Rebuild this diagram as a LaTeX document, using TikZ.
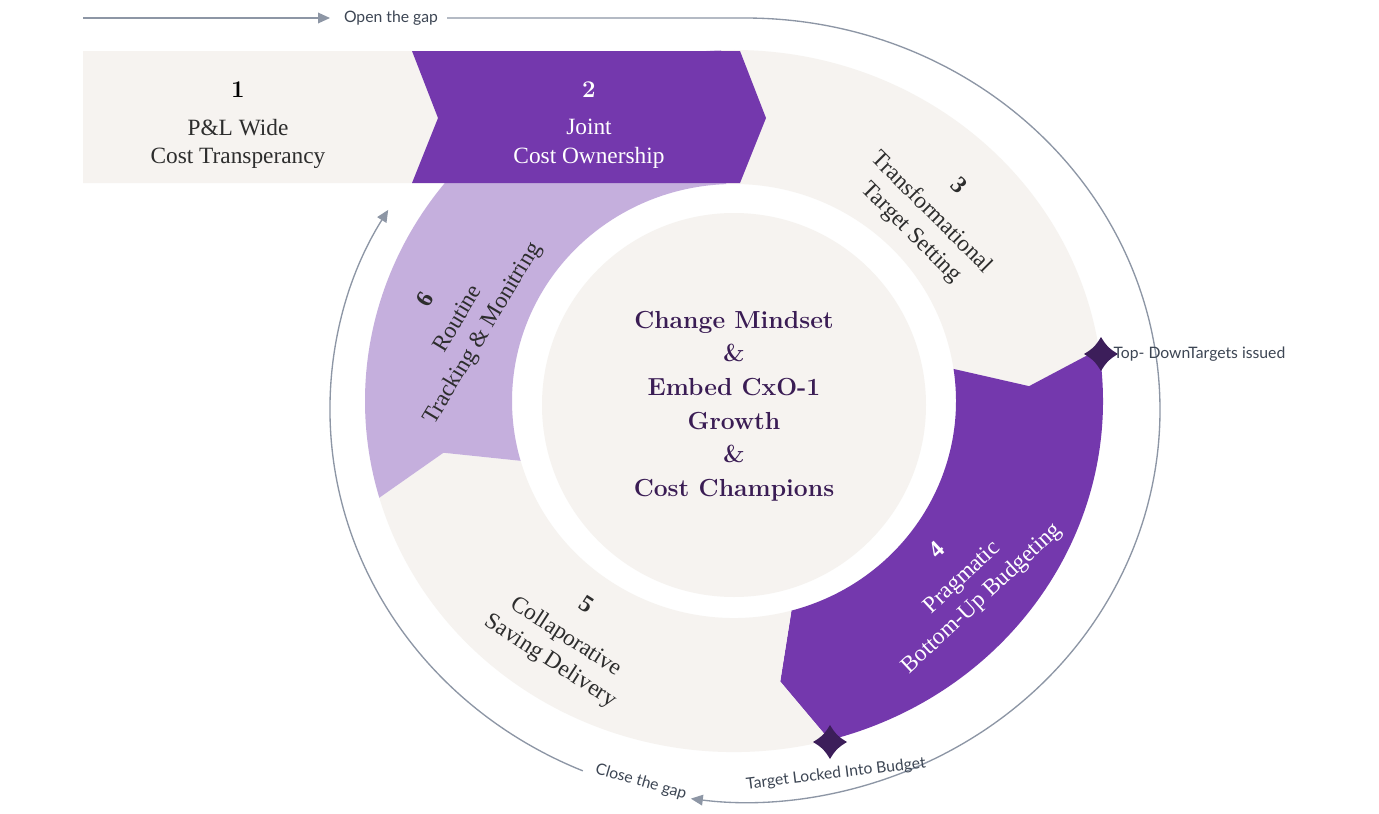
\documentclass[tikz,border=0pt]{standalone}
\usepackage{fontspec}
\newfontfamily\latofont{Lato}
\newfontfamily\stepfont{Liberation Serif}
\usetikzlibrary{arrows.meta}

\definecolor{cbeige}{RGB}{246,243,240}
\definecolor{cpurple}{RGB}{116,56,173}
\definecolor{clavender}{RGB}{197,175,221}
\definecolor{cdeep}{RGB}{58,28,84}
\definecolor{cstar}{RGB}{60,30,90}
\definecolor{cloop}{RGB}{141,150,165}
\definecolor{clooptext}{RGB}{61,70,84}
\definecolor{cdark}{RGB}{45,45,45}

\tikzset{every picture/.style={line width=0.75pt}}
\tikzset{
  loopline/.style={draw=cloop, line width=1pt},
  looptip/.style={-{Triangle[length=9pt,width=8pt]}},
  looptext/.style={font=\latofont\fontsize{11.8}{13}\selectfont, text=clooptext, inner sep=0.75pt},
  segtext/.style={font=\stepfont\fontsize{17.5}{21.5}\selectfont, align=center, inner sep=0.75pt},
  boxnum/.style={font=\fontsize{18}{21}\selectfont\bfseries, inner sep=0.75pt},
}

\begin{document}
\begin{tikzpicture}[x=0.75pt,y=0.75pt,yscale=-1,xscale=1]
\useasboundingbox (0,0) rectangle (1379,814);
\fill [white] (0,0) rectangle (1379,814);

%Shape: Ring segments
\begin{scope}[shift={(734,401)}]
% segment 3
\fill [cbeige] ({369*cos(-92)},{351*sin(-92)}) arc[start angle=-92, end angle=-8.5, x radius=369, y radius=351]
  -- ({295.5*cos(-3)},{284*sin(-3)}) -- ({222*cos(-8.5)},{217*sin(-8.5)})
  arc[start angle=-8.5, end angle=-92, x radius=222, y radius=217] -- cycle ;
% segment 4
\fill [cpurple] ({369*cos(-8.5)},{351*sin(-8.5)}) arc[start angle=-8.5, end angle=75, x radius=369, y radius=351]
  -- ({295.5*cos(81)},{284*sin(81)}) -- ({222*cos(75)},{217*sin(75)})
  arc[start angle=75, end angle=-8.5, x radius=222, y radius=217]
  -- ({295.5*cos(-3)},{284*sin(-3)}) -- cycle ;
% segment 5
\fill [cbeige] ({369*cos(75)},{351*sin(75)}) arc[start angle=75, end angle=164, x radius=369, y radius=351]
  -- ({295.5*cos(169.5)},{284*sin(169.5)}) -- ({222*cos(164)},{217*sin(164)})
  arc[start angle=164, end angle=75, x radius=222, y radius=217]
  -- ({295.5*cos(81)},{284*sin(81)}) -- cycle ;
% segment 6
\fill [clavender] ({369*cos(164)},{351*sin(164)}) arc[start angle=164, end angle=268, x radius=369, y radius=351]
  -- ({222*cos(268)},{217*sin(268)})
  arc[start angle=268, end angle=164, x radius=222, y radius=217]
  -- ({295.5*cos(169.5)},{284*sin(169.5)}) -- cycle ;
\end{scope}

%Shape: Circle
\fill [cbeige] (734,405) circle [radius=192] ;

%Shape: Box 1
\fill [cbeige] (83,51) -- (412,51) -- (438,118) -- (412,183) -- (83,183) -- cycle ;
%Shape: Box 2
\fill [cpurple] (412,51) -- (740,51) -- (766,118) -- (740,183) -- (412,183) -- (438,118) -- cycle ;

%Straight Lines
\coordinate (openstart) at (83,18);
\coordinate (opentip) at (330,18);
\draw [loopline, looptip] (openstart) -- (opentip) ;
%Curve Lines
\draw [loopline, looptip] (447,18) -- (745,18) arc[start angle=-90, end angle=97.5, x radius=415, y radius=392] ;
\draw [loopline, looptip] ({745+415*cos(113)},{410+392*sin(113)}) arc[start angle=113, end angle=210.7, x radius=415, y radius=392] ;

%Shape: Star
\fill [cstar] (1101,337) .. controls (1106,345.5) and (1109.5,349) .. (1118,354) .. controls (1109.5,359) and (1106,362.5) .. (1101,371) .. controls (1096,362.5) and (1092.5,359) .. (1084,354) .. controls (1092.5,349) and (1096,345.5) .. (1101,337) -- cycle ;
%Shape: Star
\fill [cstar] (830,725) .. controls (835,733.5) and (838.5,737) .. (847,742) .. controls (838.5,747) and (835,750.5) .. (830,759) .. controls (825,750.5) and (821.5,747) .. (813,742) .. controls (821.5,737) and (825,733.5) .. (830,725) -- cycle ;

% Text Node
\node (opengap) [looptext] at (391,18) {Open the gap};
% Text Node
\node (topdown) [looptext, anchor=west] at (1112,354) {Top- DownTargets issued};
% Text Node
\node (locked) [looptext, rotate=7] at (836,774) {Target Locked Into Budget};
% Text Node
\node (closegap) [looptext, rotate=-16] at (641,782) {Close the gap};

% Text Node
\node (num1) [boxnum, text=black] at (238,90) {1};
\node (box1) [segtext, text=cdark] at (238,144) {P\&L Wide\\Cost Transperancy};
% Text Node
\node (num2) [boxnum, text=white] at (589,90) {2};
\node (box2) [segtext, text=white] at (589,144) {Joint\\Cost Ownership};
% Text Node
\node (seg3) [segtext, text=cdark, rotate=-45] at (934,210) {{\fontsize{18}{21}\selectfont\bfseries 3}\\[6pt]Transformational\\Target Setting};
% Text Node
\node (seg4) [segtext, text=white, rotate=43] at (960,575) {{\fontsize{18}{21}\selectfont\bfseries 4}\\[6pt]Pragmatic\\Bottom-Up Budgeting};
% Text Node
\node (seg5) [segtext, text=cdark, rotate=-33] at (568,634) {{\fontsize{18}{21}\selectfont\bfseries 5}\\[6pt]Collaporative\\Saving Delivery};
% Text Node
\node (seg6) [segtext, text=cdark, rotate=59] at (455,317) {{\fontsize{18}{21}\selectfont\bfseries 6}\\[6pt]Routine\\Tracking \& Monitring};

% Text Node
\node (core) [align=center, text=cdeep, font=\fontsize{18.5}{25.2}\selectfont\bfseries] at (734,406) {Change Mindset\\\&\\Embed CxO-1\\Growth\\\&\\Cost Champions};

\end{tikzpicture}
\end{document}
